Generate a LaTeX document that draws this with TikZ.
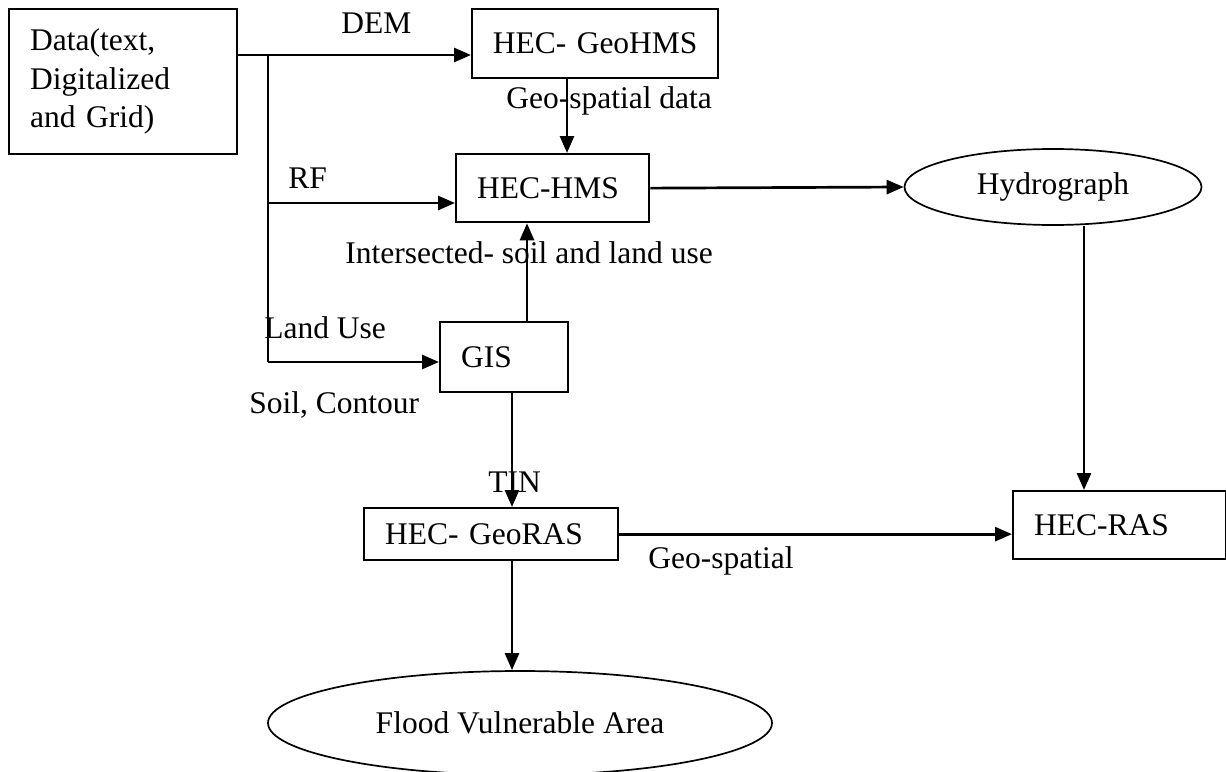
\documentclass[tikz,border=0pt]{standalone}
\usepackage{fontspec}
\setmainfont{Liberation Serif}
\usetikzlibrary{arrows.meta,shapes.geometric}

\begin{document}
\begin{tikzpicture}[x=1pt, y=-1pt, >={Triangle[length=17pt,width=14pt]}, line width=2.7pt,
    font=\fontsize{31.5}{38.5}\selectfont,
    box/.style={draw, line width=2.3pt, anchor=north west, align=left, inner xsep=21pt, inner ysep=0pt},
    oval/.style={draw, ellipse, inner sep=0pt, line width=1.7pt},
    lbl/.style={anchor=base west, inner sep=0pt}]

    \useasboundingbox (0,0) rectangle (1226,771);

    \node[box, text width=186pt, minimum height=145pt] (data) at (8,8) {Data(text,\\Digitalized\\and Grid)};
    \node[box, align=center, inner xsep=6pt, text width=234pt, minimum height=69pt] (geohms) at (471,8) {HEC- GeoHMS};
    \node[box, text width=151pt, minimum height=68pt] (hms) at (455,153) {HEC-HMS};
    \node[box, text width=86pt, minimum height=70pt] (gis) at (439,321) {GIS};
    \node[box, text width=212pt, minimum height=52pt] (georas) at (363,507) {HEC- GeoRAS};
    \node[box, text width=171pt, minimum height=68pt] (ras) at (1012,490) {HEC-RAS};
    \node[oval, minimum width=297pt, minimum height=76pt] (hydro) at (1053,187) {Hydrograph};
    \node[oval, minimum width=504pt, minimum height=104pt] (flood) at (520,723) {Flood Vulnerable Area};

    \node[lbl] (dem) at (340,33) {DEM};
    \node[lbl] (geodata) at (505,108) {Geo-spatial data};
    \node[lbl] (rf) at (287,188) {RF};
    \node[lbl] (inter) at (344,263) {Intersected- soil and land use};
    \node[lbl] (landuse) at (263,338) {Land Use};
    \node[lbl] (soil) at (248,413) {Soil, Contour};
    \node[lbl] (tin) at (487,492) {TIN};
    \node[lbl] (geospatial) at (647,568) {Geo-spatial};

    \coordinate (split) at (268,55);
    \coordinate (rfrow) at (268,203);
    \coordinate (lurow) at (268,362);
    \coordinate (geolane) at (567,0);
    \coordinate (intlane) at (527,0);
    \coordinate (hydlane) at (1084,0);
    \coordinate (tinlane) at (512,0);

    \draw[->] (data.east |- split) -- (geohms.west |- split);
    \draw (split) -- (lurow);
    \draw[->] (rfrow) -- (hms.west |- rfrow);
    \draw[->] (lurow) -- (gis.west |- lurow);
    \draw[->] (geohms.south -| geolane) -- (hms.north -| geolane);
    \draw[->] (gis.north -| intlane) -- (hms.south -| intlane);
    \draw[->] (hms.east) -- (hydro.west);
    \draw[->] (hydro.south -| hydlane) -- (ras.north -| hydlane);
    \draw[->] (gis.south -| tinlane) -- (georas.north -| tinlane);
    \draw[->] (georas.east) -- (georas.east -| ras.west);
    \draw[->] (georas.south -| tinlane) -- (flood.north -| tinlane);
\end{tikzpicture}
\end{document}
